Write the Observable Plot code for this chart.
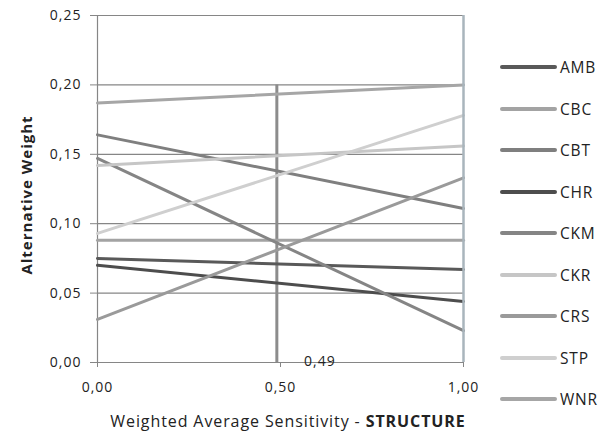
<!DOCTYPE html>
<html><head><meta charset="utf-8">
<script src="https://cdn.jsdelivr.net/npm/d3@7"></script>
<script src="https://cdn.jsdelivr.net/npm/@observablehq/plot@0.6"></script>
<style>
body{margin:0;background:#fff}
#wrap{position:relative;width:608px;height:432px;font-family:"Open Sans",sans-serif;color:#222}
#wrap svg text{letter-spacing:1px}
#legend{position:absolute;left:0;top:0}
.lg{position:absolute;left:500px;height:22px;display:flex;align-items:center;font-size:15.5px;letter-spacing:0.8px}
.lg span.sw{display:inline-block;width:57px;height:4px;margin-right:3px;border-radius:2px}
#xt{position:absolute;left:58px;width:460px;top:410px;text-align:center;font-size:16px;letter-spacing:0.9px;color:#222}
</style>
</head><body><div id="wrap"></div>
<script>
const names = ["AMB","CBC","CBT","CHR","CKM","CKR","CRS","STP","WNR"];
const atZero = [0.075,0.088,0.164,0.070,0.147,0.142,0.031,0.093,0.187];
const atOne  = [0.067,0.088,0.111,0.044,0.023,0.156,0.133,0.178,0.200];
const colors = ["#595959","#a3a3a3","#7f7f7f","#4d4d4d","#858585","#c6c6c6","#9a9a9a","#cfcfcf","#a6a6a6"];
const sensitivity = [0, 1];
const currentValue = 0.49;
const currentTop = 0.20;
const yTicks = [0,0.05,0.10,0.15,0.20,0.25];
const xTicks = [0,0.5,1];
const yTitle = "Alternative Weight";
const xTitleA = "Weighted Average Sensitivity - ";
const xTitleB = "STRUCTURE";

const fmt = d => d.toFixed(2).replace(".", ",");
const rows = [];
names.forEach((n,i) => {
  rows.push({name:n, x:sensitivity[0], y:atZero[i]});
  rows.push({name:n, x:sensitivity[1], y:atOne[i]});
});

const chart = Plot.plot({
  width:608, height:432,
  marginLeft:97, marginRight:145, marginTop:15, marginBottom:70,
  style:{fontFamily:'"Open Sans",sans-serif', color:"#222", background:"#fff"},
  x:{domain:[0,1]},
  y:{domain:[0,0.25]},
  color:{domain:names, range:colors},
  marks:[
    Plot.ruleY(yTicks, {stroke:"#868686", strokeWidth:1.2}),
    Plot.ruleX([0], {stroke:"#868686", strokeWidth:1.2}),
    Plot.axisY({ticks:yTicks, tickFormat:fmt, tickSize:7, tickPadding:9, fontSize:14, label:null, stroke:"#868686"}),
    Plot.axisX({ticks:xTicks, tickFormat:fmt, tickSize:5, tickPadding:15, fontSize:14, label:null, stroke:"#868686"}),
    Plot.ruleX([currentValue], {y1:0, y2:currentTop, stroke:"#8c8c8c", strokeWidth:3}),
    Plot.line(rows, {x:"x", y:"y", z:"name", stroke:"name", strokeWidth:3}),
    Plot.ruleX([1], {y1:0, y2:0.25, stroke:"#a9b5bc", strokeWidth:2.5}),
    Plot.text([currentValue], {x:d=>d, y:0, text:fmt, dx:43, dy:-1, fontSize:14, fill:"#222"}),
    Plot.text([yTitle], {frameAnchor:"left", textAnchor:"middle", dx:-70, dy:6, rotate:-90, fontWeight:"bold", fontSize:15, fill:"#222"})
  ]
});
const wrap = document.getElementById("wrap");
wrap.appendChild(chart);

const lg = document.createElement("div");
lg.id = "legend";
names.forEach((n,i) => {
  const r = document.createElement("div");
  r.className = "lg";
  r.style.top = (56 + i*41.5) + "px";
  r.innerHTML = `<span class="sw" style="background:${colors[i]}"></span><span>${n}</span>`;
  lg.appendChild(r);
});
wrap.appendChild(lg);

const xt = document.createElement("div");
xt.id = "xt";
xt.innerHTML = `${xTitleA}<b>${xTitleB}</b>`;
wrap.appendChild(xt);
</script>
</body></html>
